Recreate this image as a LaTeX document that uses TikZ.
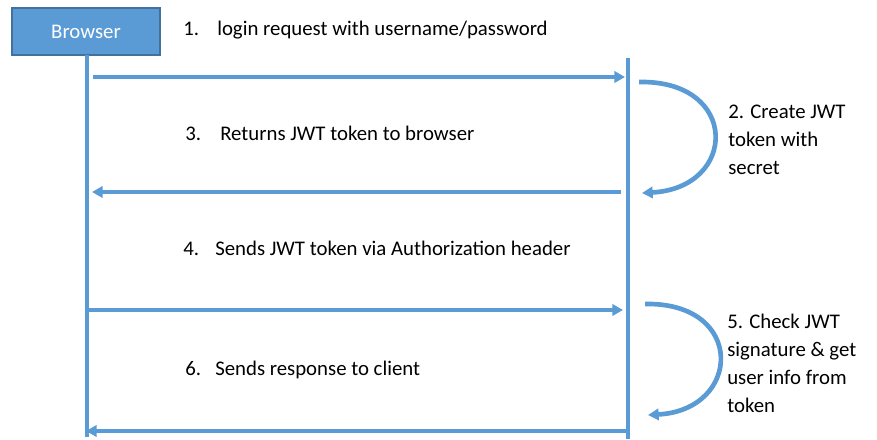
\documentclass[tikz,border=0pt]{standalone}
\usepackage{fontspec}
\setmainfont{Carlito}
\usetikzlibrary{arrows.meta}
\definecolor{lineblue}{HTML}{5B9BD5}
\definecolor{boxedge}{HTML}{41719C}
\begin{document}
\begin{tikzpicture}[x=0.75pt,y=-0.75pt,
  flow/.style={draw=lineblue,line width=3.5pt,-{Triangle[length=8pt,width=8.5pt]}},
  life/.style={draw=lineblue,line width=3.6pt},
  lbl/.style={font=\fontsize{15.6pt}{21pt}\selectfont,anchor=base west,inner sep=0pt,text=black}]
\useasboundingbox (0,0) rectangle (877,439);
% Browser box
\node[draw=boxedge,line width=1.6pt,fill=lineblue,minimum width=148*0.75pt,minimum height=47*0.75pt,
  inner sep=0pt,text=white,font=\fontsize{15.6pt}{18pt}\selectfont] (browser) at (86,31.5) {Browser};
% lifelines
\coordinate (lt) at (87,55);
\coordinate (lb) at (87,437);
\coordinate (rt) at (628,58);
\coordinate (rb) at (628,439);
\draw[life] (lt) -- (lb);
\draw[life] (rt) -- (rb);
% message arrows
\coordinate (a1s) at (93,77);   \coordinate (a1e) at (625,77);
\coordinate (a3s) at (621,192); \coordinate (a3e) at (92,192);
\coordinate (a4s) at (87,310);  \coordinate (a4e) at (623,310);
\coordinate (a6s) at (626,431); \coordinate (a6e) at (86,431);
\draw[flow] (a1s) -- (a1e);
\draw[flow] (a3s) -- (a3e);
\draw[flow] (a4s) -- (a4e);
\draw[flow] (a6s) -- (a6e);
% self arrows
\coordinate (c2s) at (639,82);  \coordinate (c2e) at (642,193);
\coordinate (c5s) at (645,304); \coordinate (c5e) at (648,415);
\draw[flow] (c2s) .. controls (740,80) and (738,188) .. (c2e);
\draw[flow] (c5s) .. controls (746,302) and (742,410) .. (c5e);
% labels
\node[lbl] (n1) at (183,35) {1.};
\node[lbl] (t1) at (217,35) {login request with username/password};
\node[lbl] (n3) at (185,140) {3.};
\node[lbl] (t3) at (220,140) {Returns JWT token to browser};
\node[lbl] (n4) at (183,255) {4.};
\node[lbl] (t4) at (215,255) {Sends JWT token via Authorization header};
\node[lbl] (n6) at (185,375) {6.};
\node[lbl] (t6) at (215,375) {Sends response to client};
\node[lbl,align=left] (t2) at (728,174) {2. Create JWT\\token with\\secret};
\node[lbl,align=left] (t5) at (727,412) {5. Check JWT\\signature \& get\\user info from\\token};
\end{tikzpicture}
\end{document}
